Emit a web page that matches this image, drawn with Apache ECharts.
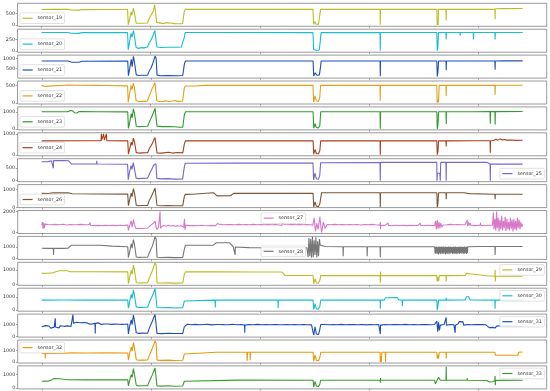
<!DOCTYPE html>
<html><head><meta charset="utf-8">
<script src="https://cdn.jsdelivr.net/npm/echarts@6/dist/echarts.min.js"></script>
<style>html,body{margin:0;padding:0;background:#fff}#c{width:550px;height:391px}</style>
</head><body><div id="c"></div>
<script>
// x values: row index in thousands
const names = ['sensor_19','sensor_20','sensor_21','sensor_22','sensor_23','sensor_24','sensor_25','sensor_26','sensor_27','sensor_28','sensor_29','sensor_30','sensor_31','sensor_32','sensor_33'];
const colors = ['#bcbd22','#17becf','#1f4fb4','#e0a21a','#2e9a2a','#a8401e','#7468cc','#7a5638','#d878c8','#777777','#bcbd22','#17becf','#1f4fb4','#e89a0a','#3a9a2a'];
const xTicks = [0,50,100,150,200];
const yMin = [-43.9,-22.4,44.5,-29.7,-61.4,-50,-42,-15.4,-100,-87.5,-72.7,-80,-64.8,-91.7,-72.2];
const yMax = [921.9,471.3,1158,623.8,1289,1050,881.6,1273,2100,1933,1539.6,1680,1888.8,1931,1657];
const yTicks = [[0,500],[0,250],[500,1000],[0,500],[0,1000],[0,1000],[0,500],[0,1000],[0,2000],[0,1000],[0,1000],[0,1000],[0,1000],[0,1000],[0,1000]];

const s19 = [[0,660],[5,665],[12,666],[13.5,640],[17,635],[18.5,655],[30,660],[39.4,662],[39.7,20],[40.3,250],[41,560],[41.4,420],[42.1,720],[42.6,500],[43.3,90],[44,80],[46,85],[48.5,95],[49.2,260],[49.9,330],[50.5,480],[51.2,600],[51.8,860],[52.3,900],[52.7,120],[53.2,60],[56,70],[57,110],[59,95],[61,70],[63,60],[64.6,70],[65.3,550],[65.8,668],[71,675],[71.2,700],[71.4,668],[90,668],[110,668],[124.3,668],[124.6,30],[125.2,150],[125.8,40],[126.8,40],[127.4,120],[127.8,668],[140,668],[155,668],[155.1,20],[155.2,668],[181,668],[181.2,10],[181.4,200],[181.6,10],[181.8,668],[185.2,668],[185.3,200],[185.4,668],[207.6,668],[207.7,250],[207.8,690],[212,700],[220.3,705]];
const s20 = [[0,400],[12,402],[13.5,385],[17,382],[18.5,398],[25.4,400],[25.5,390],[25.6,400],[39.4,398],[39.7,30],[40.3,200],[41,380],[41.4,300],[42.1,440],[42.6,300],[43.3,80],[44.5,60],[45.5,75],[47,70],[48.5,90],[49.3,180],[50,230],[50.7,300],[51.4,380],[51.9,440],[52.4,430],[52.8,90],[53.5,80],[55,80],[55.1,50],[55.2,85],[57.5,85],[57.6,55],[57.7,85],[60,85],[61.5,85],[61.6,55],[61.7,85],[64,90],[64.1,60],[64.2,90],[64.7,100],[65.4,300],[65.8,400],[73.5,400],[74,410],[74.5,400],[124.3,398],[124.6,40],[125.2,20],[126,15],[127.2,30],[127.6,200],[128,398],[155,400],[155.1,10],[155.2,400],[181,400],[181.2,10],[181.5,80],[181.8,400],[185.2,400],[185.3,250],[185.4,400],[191.6,400],[191.7,330],[191.8,400],[197.7,400],[197.8,250],[197.9,400],[207.6,400],[207.7,250],[207.8,400],[220.3,400]];
const s21 = [[0,870],[12,872],[13.5,820],[17,815],[18.5,860],[39.4,868],[39.7,160],[40.3,500],[41,950],[41.4,600],[42,1100],[42.5,800],[43.3,200],[44.5,170],[46,180],[48.5,190],[49.3,400],[50,520],[50.7,700],[51.3,900],[51.9,1110],[52.4,1000],[52.8,200],[54,160],[58,165],[62,160],[64.6,170],[65.3,700],[65.8,872],[80,872],[100,872],[124.3,870],[124.6,150],[125.3,300],[126,180],[127.2,200],[127.6,500],[128,870],[155,872],[155.1,140],[155.2,872],[181,872],[181.2,120],[181.5,350],[181.8,872],[185.2,872],[185.3,420],[185.4,872],[207.6,872],[207.7,450],[207.8,872],[212,880],[220.3,880]];
const s22 = [[0,500],[0.8,450],[1.6,470],[2.5,505],[12,510],[16,505],[25,500],[25.4,490],[25.6,505],[30,495],[39.4,485],[39.7,20],[40.3,250],[41,500],[41.4,380],[42,560],[42.5,450],[43.3,60],[44.5,40],[46,50],[47.5,45],[48.5,60],[49.3,200],[50,300],[50.7,420],[51.3,480],[51.9,580],[52.4,560],[52.8,60],[54,40],[56,45],[57,60],[58,40],[60,55],[61,70],[62,45],[64.6,50],[65.3,400],[65.8,480],[71,482],[74,500],[95,500],[100.5,500],[101,460],[101.5,500],[124.3,500],[124.6,30],[125.2,200],[125.8,60],[126.8,40],[127.4,150],[127.8,500],[155,500],[155.1,60],[155.2,500],[181,500],[181.2,0],[181.5,100],[181.8,20],[182.1,500],[185.2,500],[185.3,200],[185.4,500],[197.7,500],[197.8,470],[197.9,505],[207.6,505],[207.7,230],[207.8,505],[220.3,505]];
const s23 = [[0,1000],[12,1005],[13,1080],[14,1060],[15,950],[16,930],[17,1010],[25.3,1000],[25.4,1060],[25.5,1000],[39.4,995],[39.7,30],[40.3,400],[41,900],[41.4,650],[42,1180],[42.5,900],[43.3,150],[44.5,130],[46,140],[48.5,150],[49.3,400],[50,600],[50.7,800],[51.3,1000],[51.9,1200],[52.4,1150],[52.8,160],[55,130],[58,140],[61,120],[63,90],[64.6,100],[65.3,800],[65.8,1000],[124.3,1000],[124.6,40],[125.2,300],[125.8,80],[126.8,60],[127.4,200],[127.8,1000],[155,1000],[155.1,0],[155.2,1000],[181,1000],[181.2,0],[181.5,200],[181.8,1000],[185.2,1000],[185.3,280],[185.4,1000],[197.7,1000],[197.8,950],[197.9,1010],[205.4,1010],[205.5,300],[205.6,1010],[207.6,1010],[207.7,250],[207.8,1010],[220.3,1015]];
const s24 = [[0,665],[20,668],[27.2,668],[27.3,1000],[27.5,700],[28.3,1000],[28.5,990],[28.7,700],[29.6,1000],[29.8,670],[39.4,665],[39.7,30],[40.3,300],[41,600],[41.4,450],[42,800],[42.5,600],[43.3,100],[44.5,80],[46,90],[48.5,100],[49.3,300],[50,420],[50.7,550],[51.3,700],[51.9,820],[52.4,780],[52.8,90],[55,80],[58,120],[60,80],[62,110],[64.6,90],[65.3,500],[65.8,665],[124.3,665],[124.6,30],[125.2,250],[125.8,60],[126.8,40],[127.4,200],[127.8,665],[155,665],[155.1,0],[155.2,665],[181,665],[181.2,0],[181.5,150],[181.8,665],[185.2,665],[185.3,400],[185.4,665],[199,668],[199.1,700],[199.2,668],[205.4,670],[205.5,100],[205.6,670],[207,680],[208,740],[209,700],[210,760],[211,710],[212,730],[213,700],[215,705],[217,690],[220.3,695]];
const s25 = [[0,760],[3,765],[4.5,800],[5.3,800],[5.4,495],[5.5,810],[10,805],[12.3,800],[13.8,668],[25.2,668],[25.3,800],[25.4,668],[39.4,660],[39.7,40],[40.3,350],[41,600],[41.4,450],[42,720],[42.5,500],[43.3,100],[44.5,80],[46,90],[48.5,100],[49.3,250],[50,380],[50.7,500],[51.3,620],[51.9,700],[52.4,680],[52.8,90],[55,70],[58,80],[61,60],[64.6,70],[65.3,500],[65.8,700],[90,705],[124.3,710],[124.6,30],[125.2,300],[125.8,80],[126.8,60],[127.4,200],[127.8,720],[155,730],[155.1,0],[155.2,735],[181,735],[181.1,0],[181.3,300],[182.4,300],[182.6,0],[182.8,735],[185.2,735],[185.3,0],[185.4,735],[203.9,735],[204.1,665],[205.4,665],[205.5,0],[205.6,665],[217.6,665],[217.8,720],[217.9,665],[220.3,665]];
const s26 = [[0,780],[3,775],[5,810],[12,815],[14,760],[25,745],[25.4,800],[25.6,745],[39.4,740],[39.7,90],[40.3,450],[41,800],[41.4,600],[42,1050],[42.5,800],[43.3,120],[44.5,90],[46,100],[48.5,110],[49.3,400],[50,550],[50.7,750],[51.3,900],[51.9,1080],[52.4,1000],[52.8,100],[55,90],[58,95],[61,85],[64.6,95],[65.3,600],[65.8,726],[69,730],[69.5,820],[78.7,820],[80.3,640],[86.4,650],[87.9,780],[100,780],[124.3,790],[124.6,20],[125.2,300],[125.8,60],[126.8,40],[127.4,200],[128.2,820],[152,820],[152.1,870],[152.2,820],[155,820],[155.1,0],[155.2,820],[181,820],[181.2,0],[181.5,200],[181.8,820],[185.2,820],[185.3,450],[185.4,820],[193.5,815],[194.3,740],[195,780],[196,770],[196.5,730],[207.6,730],[207.7,450],[207.8,730],[217.7,730],[217.8,800],[217.9,730],[220.3,730]];
const s27 = [[0,700],[0.3,1000],[0.6,350],[0.9,950],[1.2,400],[1.5,800],[2,680],[2.9,760],[3.7,650],[4.6,740],[5.4,670],[6.3,770],[7.1,640],[8,730],[8.8,690],[9.7,780],[10.5,660],[11.4,720],[12.2,640],[13.1,760],[13.9,680],[14.8,740],[15.6,650],[16.5,750],[17.3,690],[18.2,770],[19,660],[19.9,730],[20.7,680],[21.6,750],[22.1,700],[22.2,950],[22.3,690],[23.2,760],[24,650],[24.9,740],[25.7,680],[26.6,770],[27.4,640],[28.3,730],[29.1,690],[30,760],[30.8,660],[31.7,740],[32.5,680],[33.4,750],[34.2,650],[35.1,730],[35.9,690],[36.8,760],[37.6,660],[38.5,720],[39.4,700],[39.7,200],[40.3,700],[41,1100],[41.4,500],[42,1250],[42.5,700],[43.3,350],[44.5,400],[46,380],[48.5,420],[49.3,600],[50,700],[50.7,550],[51.3,900],[51.9,1100],[52.4,500],[52.8,300],[53.5,500],[54.2,2000],[54.4,400],[55,600],[56,660],[57,600],[58,680],[59,610],[60,660],[61,590],[62,650],[63,600],[64,640],[65,500],[65.4,1300],[65.6,250],[66,700],[66.9,760],[67.7,650],[68.6,740],[69.4,670],[70.3,770],[71.1,640],[72,730],[72.8,690],[73.7,780],[74.5,660],[75.4,720],[76.2,640],[77.1,760],[77.9,680],[78.8,740],[79.6,650],[80.5,850],[80.8,690],[81.7,770],[82.5,660],[83.4,730],[84.2,680],[85.1,750],[85.9,650],[86.8,760],[87.6,640],[88.5,740],[89.3,680],[90.2,770],[91,660],[91.9,730],[92.7,690],[93.6,760],[94.4,650],[95.3,740],[96.1,680],[97,770],[97.8,640],[98.7,730],[99.5,690],[100.4,760],[101.2,660],[102.1,740],[102.9,680],[103.8,750],[104.6,650],[105.5,730],[106.3,690],[107.2,760],[108,660],[108.9,720],[110,680],[110.2,880],[110.4,700],[111.3,760],[112.1,650],[113,740],[113.8,680],[114.7,770],[115.5,640],[116.4,730],[117.2,690],[118.1,760],[118.9,660],[119.8,740],[120.6,680],[121.5,750],[122.3,650],[123.2,730],[124.2,700],[124.8,1400],[125.4,100],[126,900],[126.6,300],[127.4,1500],[128.2,0],[129,1000],[129.8,400],[130.8,750],[131.7,660],[132.5,740],[133.4,680],[134.2,770],[135.1,640],[135.9,730],[136.8,690],[137.6,760],[138.5,660],[139.3,740],[140.2,680],[141,750],[141.9,650],[142.7,730],[143.6,690],[144.4,760],[145.3,660],[146.1,720],[147,680],[147.8,760],[148.7,650],[149.5,740],[150.4,680],[151.2,770],[152.1,640],[152.9,730],[153.8,690],[155,700],[155.1,1000],[155.2,300],[155.3,700],[156.2,760],[157,650],[157.9,740],[158.7,900],[158.8,680],[159.7,770],[160.5,640],[161.4,730],[162.2,690],[163.1,760],[163.9,660],[164.8,740],[165.6,680],[166.5,750],[167.3,650],[168.2,730],[169,690],[169.9,760],[170.7,660],[171.6,720],[172.4,680],[173.4,900],[173.5,700],[174.4,770],[175.2,640],[176.1,730],[176.9,690],[177.8,760],[178.6,660],[179.5,740],[180,650],[180.4,1100],[180.8,300],[181.2,1200],[181.6,350],[182,1000],[182.4,400],[182.8,900],[183.3,500],[183.8,720],[184.7,660],[185.5,740],[186.4,680],[187.2,770],[188.1,640],[188.9,730],[189.8,690],[190.6,760],[191.5,660],[192.3,740],[193.2,680],[194,750],[194.8,700],[194.9,1200],[195.1,600],[195.5,1000],[195.8,650],[196.3,900],[196.5,700],[197.4,760],[198.2,650],[199.1,740],[199.9,680],[200.9,700],[201,950],[201.1,690],[202,770],[202.8,640],[203.7,730],[204.5,690],[205.4,760],[206.5,700],[206.9,1900],[207.2,300],[207.6,1300],[208,200],[208.4,2000],[208.7,400],[209.1,1400],[209.5,100],[209.9,1200],[210.3,300],[210.7,1600],[211.1,200],[211.5,1100],[211.9,400],[212.3,1500],[212.7,150],[213.1,1300],[213.5,300],[213.9,1000],[214.3,200],[214.7,1400],[215.1,350],[215.5,1200],[215.9,100],[216.3,1300],[216.7,300],[217.1,1100],[217.5,200],[217.9,1400],[218.3,400],[218.7,1200],[219.1,300],[219.5,1000],[219.9,500],[220.3,800]];
const s28 = [[0,890],[2,880],[5.3,880],[5.4,300],[5.5,885],[10,880],[12,890],[13.5,1150],[20,1160],[26.8,1150],[32,1080],[39.4,1030],[39.7,80],[40.3,600],[41,1300],[41.4,900],[42,1650],[42.5,1200],[43.3,120],[44.5,90],[46,100],[48.5,110],[49.3,500],[50,800],[50.7,1100],[51.3,1500],[51.9,1900],[52.4,1700],[52.8,100],[55,80],[58,90],[61,70],[64.6,90],[65.3,800],[65.8,1150],[78.6,1170],[80,1380],[86,1380],[87.7,1030],[88.5,1030],[88.6,300],[88.7,1000],[95,950],[105,940],[121.5,940],[122,100],[122.4,1800],[122.8,200],[123.2,1700],[123.6,50],[124,1900],[124.4,100],[124.8,1600],[125.2,300],[125.6,1850],[126,80],[126.4,1500],[126.8,200],[127.2,1700],[127.6,1150],[130,1040],[138,1030],[138.1,200],[138.2,1030],[149,1030],[149.1,200],[149.2,1030],[155,1030],[155.1,100],[155.2,1030],[180,1030],[180.2,450],[180.4,1000],[180.6,380],[180.8,1050],[181,500],[181.2,980],[181.4,420],[181.6,1040],[181.8,350],[182,1000],[182.2,470],[182.4,1050],[182.6,400],[182.8,990],[183,520],[183.2,1040],[183.4,380],[183.6,1000],[183.8,460],[184,1050],[184.2,420],[184.4,980],[184.6,500],[184.8,1040],[185,370],[185.2,1000],[185.4,450],[185.6,1030],[185.8,410],[186,990],[186.2,490],[186.4,1050],[186.6,360],[186.8,1000],[187,470],[187.2,1040],[187.4,430],[187.6,980],[187.8,510],[188,1030],[188.2,390],[188.4,1000],[188.6,460],[188.8,1050],[189,420],[189.2,990],[189.4,480],[189.6,1040],[189.8,370],[190,1000],[190.2,450],[190.4,1030],[190.6,410],[190.8,980],[191,500],[191.2,1050],[191.4,380],[191.6,1000],[191.8,470],[192,1040],[192.2,430],[192.4,990],[192.6,520],[192.8,1030],[193,390],[193.2,1000],[193.4,460],[193.6,1050],[193.8,420],[194,980],[194.2,490],[194.4,1040],[194.6,400],[194.8,1000],[195,470],[195.2,1030],[195.6,1040],[200,1050],[207.6,1050],[207.7,300],[207.8,1050],[212,1040],[220.3,1040]];
const s29 = [[0,765],[3,770],[5,800],[5.5,900],[8,950],[11.7,945],[13,880],[25,875],[39.4,870],[39.7,60],[40.3,500],[41,1000],[41.4,700],[42,1350],[42.5,1000],[43.3,120],[44.5,90],[46,100],[48.5,110],[49.3,450],[50,700],[50.7,950],[51.3,1250],[51.9,1500],[52.4,1350],[52.8,100],[55,90],[58,100],[61,80],[64.6,90],[65.3,700],[65.8,870],[80,865],[100,860],[110,860],[111.5,610],[124.3,610],[124.6,50],[125.2,400],[125.8,100],[126.8,80],[127.4,300],[127.8,605],[155,605],[155.1,100],[155.2,900],[155.3,605],[181,605],[181.2,200],[181.5,500],[181.8,220],[182.1,605],[185.2,605],[185.3,200],[185.4,605],[194,610],[194.5,760],[196,740],[196.5,610],[204,600],[204.2,560],[207.6,560],[207.7,1000],[207.8,200],[207.9,560],[220.3,560]];
const s30 = [[0,770],[10,772],[20,768],[30,770],[39.4,770],[39.7,150],[40.3,700],[41,1200],[41.4,900],[42,1550],[42.5,1100],[43.3,250],[44.5,200],[46,210],[48.5,220],[49.3,600],[50,850],[50.7,1100],[51.3,1350],[51.9,1650],[52.4,1500],[52.8,200],[55,180],[58,190],[61,170],[64.6,190],[65.3,700],[65.8,770],[79.4,770],[79.5,200],[79.6,770],[95,775],[108.2,770],[108.3,150],[108.4,770],[124.3,770],[124.6,50],[125.2,500],[125.8,100],[126.8,80],[127.4,300],[127.8,770],[155,770],[155.1,100],[155.2,770],[156.9,770],[157.5,950],[163,960],[163.5,780],[165.1,780],[165.2,300],[165.3,780],[181,770],[181.2,0],[181.5,300],[181.8,770],[185.2,770],[185.3,950],[185.4,770],[194,775],[194.5,1000],[195.5,1040],[196.3,780],[207.6,770],[207.7,100],[207.8,770],[220.3,765]];
const s31 = [[0,820],[0.9,690],[1.7,910],[2.5,750],[3.3,880],[4.1,700],[5,860],[5.7,780],[6.1,820],[6.2,1530],[6.3,800],[7.1,880],[7.9,720],[8.6,905],[9.5,760],[10.2,850],[11.1,735],[11.9,885],[12.6,770],[13.4,840],[14.2,800],[14.3,1850],[14.5,1120],[15.2,1030],[16,1190],[16.9,1060],[17.6,1160],[18.5,1020],[19.2,1170],[20.1,1090],[20.8,1140],[21.8,1040],[22.4,1150],[23.3,1060],[24.4,1100],[24.5,250],[24.6,1100],[25.3,1050],[26.1,1140],[27.1,1020],[27.7,1130],[28.7,1045],[29.3,1115],[30.3,1050],[30.9,1125],[31.9,1020],[32.5,1105],[33.5,1040],[34.1,1115],[35.1,1030],[35.7,1095],[36.7,1020],[37.3,1085],[38.3,1030],[39.4,1050],[39.7,200],[40.3,900],[41,1400],[41.4,1000],[42,1800],[42.5,1300],[43.3,300],[44.5,250],[46,270],[48.5,260],[49.3,700],[50,1000],[50.7,1300],[51.3,1600],[51.9,1850],[52.4,1700],[52.8,250],[55,230],[58,260],[61,240],[64.6,250],[65.3,800],[65.8,950],[66.7,1030],[67.5,880],[68.6,990],[69.4,905],[70.4,1020],[71.2,870],[72.3,985],[73.1,915],[74.2,1005],[75,885],[76.1,1015],[76.8,900],[78,975],[78.7,890],[79.9,1000],[80.6,920],[81.8,1010],[82.5,875],[83.7,995],[84.4,905],[85.6,985],[86.3,890],[87.5,1020],[88.2,900],[89.4,980],[90.1,885],[91.3,1000],[92.2,915],[92.9,950],[93,300],[93.1,950],[94,890],[95,1010],[95.8,895],[97,985],[97.7,905],[98.9,1015],[99.6,880],[100.8,990],[101.5,910],[102.7,1000],[103.4,890],[104.6,980],[105.3,905],[106.5,1010],[107.2,880],[108.4,995],[109.1,900],[110.3,985],[111,895],[112.2,1010],[112.9,905],[114.1,980],[114.8,890],[116,1000],[116.7,915],[117.9,985],[118.6,885],[119.8,1005],[120.5,900],[121.7,990],[122.4,910],[123.6,975],[124.3,950],[124.6,100],[125.2,800],[125.8,200],[126.8,150],[127.4,600],[127.8,1000],[128.6,890],[129.7,1010],[130.4,900],[131.6,985],[132.3,880],[133.5,1005],[134.2,915],[135.4,990],[136.1,885],[137.3,1015],[138,905],[139.2,980],[139.9,890],[141.1,1000],[141.8,910],[143,995],[143.7,880],[144.9,985],[145.6,905],[146.8,1010],[147.5,895],[148.7,975],[149.4,890],[150.6,1005],[151.3,915],[152.5,985],[153.2,895],[154.4,1000],[155,950],[155.1,200],[155.2,950],[156,890],[157.2,1010],[157.9,905],[159.1,985],[159.8,880],[161,995],[161.7,910],[162.9,1005],[163.6,890],[164.8,980],[165.5,905],[166.7,1015],[167.4,885],[168.6,990],[169.3,900],[170.5,1000],[171.2,890],[172.4,985],[173.1,910],[174.3,1010],[175,880],[176.2,995],[176.9,905],[178.1,980],[178.8,895],[180,1000],[180.5,900],[181,1300],[181.4,400],[181.8,1200],[182.2,500],[182.6,950],[183.4,890],[184.3,1000],[185.2,950],[185.3,1600],[185.4,950],[186.2,885],[187.1,1005],[188,900],[188.8,990],[189.3,950],[189.4,300],[189.5,950],[190.3,1000],[190.8,1060],[191.2,1250],[192,1180],[193,1230],[193.3,950],[194.1,890],[195,1005],[195.8,905],[196.7,985],[197.5,880],[198.4,1000],[199.2,910],[200.1,995],[200.9,890],[201.8,1010],[202.6,905],[203.5,980],[204.2,850],[205,740],[205.9,880],[206.7,760],[207.7,700],[208.4,870],[209.2,740],[210.1,900],[210.9,760],[211.8,860],[212.6,730],[213.5,890],[214.3,750],[215.2,870],[216,740],[216.9,880],[217.7,760],[218.6,860],[219.4,750],[220.3,830]];
const s32 = [[0,740],[1.5,740],[1.6,300],[1.7,740],[5,745],[10,760],[14,800],[20,790],[30,800],[39.4,790],[39.7,150],[40.3,800],[41,1300],[41.4,950],[42,1700],[42.5,1200],[43.3,200],[44.5,150],[46,160],[48.5,170],[49.3,600],[50,900],[50.7,1200],[51.3,1500],[51.9,1850],[52.4,1650],[52.8,150],[55,140],[58,160],[61,130],[64.6,150],[65.3,700],[65.8,850],[80,855],[94,850],[94.1,100],[94.3,850],[95.4,850],[95.5,150],[95.6,850],[110,850],[124.3,850],[124.6,60],[125.2,600],[125.8,150],[126.8,100],[127.4,400],[127.8,850],[155,860],[155.1,0],[155.3,500],[155.6,0],[155.8,860],[157.4,860],[157.5,0],[157.6,860],[181,860],[181.2,300],[181.5,600],[181.8,300],[182.1,860],[185.2,860],[185.3,300],[185.4,860],[207.6,860],[207.8,600],[212,590],[218.2,600],[218.4,850],[219,900],[220.3,880]];
const s33 = [[0,500],[2,510],[3,505],[4.5,600],[5.5,700],[8,690],[10,650],[12,620],[20,610],[30,615],[39.4,610],[39.7,150],[40.3,600],[41,1000],[41.4,800],[42,1450],[42.5,1000],[43.3,200],[44.5,150],[46,170],[48.5,160],[49.3,500],[50,750],[50.7,1000],[51.3,1250],[51.9,1500],[52.4,1350],[52.8,150],[55,140],[58,160],[61,130],[64.6,150],[65.3,500],[65.8,580],[90,585],[124.3,580],[124.6,60],[125.2,500],[125.8,150],[126.8,100],[127.4,300],[127.8,580],[155,580],[155.1,400],[155.2,750],[155.3,580],[180,580],[180.3,300],[181,420],[181.8,800],[182.6,580],[185.2,580],[185.3,1600],[185.4,580],[194.8,580],[194.9,750],[195,580],[204,560],[205,450],[206.5,470],[207.6,560],[207.7,900],[207.8,200],[207.9,570],[220.3,575]];
const seriesData = [s19,s20,s21,s22,s23,s24,s25,s26,s27,s28,s29,s30,s31,s32,s33];
// legend placement: 'll' lower left, 'lr' lower right, 'uc' upper center, 'lc' lower center, 'ur' upper right, 'ul' upper left
const legendLoc = ['ll','ll','ll','ll','ll','ll','lr','ll','uc','lc','ur','ur','ur','ul','ur'];

const TOP0 = 3.3, PITCH = 25.9, PH = 23, LEFT = 17.5, PW = 529.2;
const XMIN = -11.016, XMAX = 231.336;
const FONT = 'DejaVu Sans';
const spine = '#808080';

const grid = [], xAxis = [], yAxis = [], series = [], legend = [];
names.forEach((n, i) => {
  const top = TOP0 + PITCH * i;
  grid.push({left: LEFT, top: top, width: PW, height: PH, show: true, borderColor: spine, borderWidth: 0.8, backgroundColor: 'transparent'});
  xAxis.push({type: 'value', gridIndex: i, min: XMIN, max: XMAX, position: 'bottom',
    axisLine: {show: false, onZero: false}, splitLine: {show: false},
    axisTick: {show: true, inside: false, length: 1.8, lineStyle: {color: spine, width: 0.7}, customValues: xTicks},
    axisLabel: {show: false, customValues: xTicks}});
  yAxis.push({type: 'value', gridIndex: i, min: yMin[i], max: yMax[i], position: 'left',
    axisLine: {show: false, onZero: false}, splitLine: {show: false},
    axisTick: {show: true, inside: false, length: 1.8, lineStyle: {color: spine, width: 0.7}, customValues: yTicks[i]},
    axisLabel: {show: true, margin: 2.5, fontSize: 4.8, fontFamily: FONT, color: '#333', customValues: yTicks[i],
      formatter: function (v) { return String(v); }}});
  series.push({name: n, type: 'line', xAxisIndex: i, yAxisIndex: i, data: seriesData[i],
    showSymbol: false, symbol: 'none', clip: true, animation: false,
    lineStyle: {color: colors[i], width: 1.1}, itemStyle: {color: colors[i]}});
  const L = {data: [n], orient: 'horizontal', itemWidth: 10, itemHeight: 1.2, icon: 'rect',
    padding: [2.3, 2.6], itemGap: 0,
    backgroundColor: 'rgba(255,255,255,0.85)', borderColor: '#cccccc', borderWidth: 0.6, borderRadius: 1.5,
    selectedMode: false,
    textStyle: {fontSize: 4.8, fontFamily: FONT, color: '#333', lineHeight: 6}};
  const loc = legendLoc[i];
  if (loc[0] === 'l') L.top = top + 9.6; else L.top = top + 2.3;
  if (loc[1] === 'l') L.left = 20;
  else if (loc[1] === 'r') L.right = 5.6;
  else L.left = 261;
  legend.push(L);
});

const chart = echarts.init(document.getElementById('c'), null, {renderer: 'canvas'});
chart.setOption({animation: false, backgroundColor: '#fff', grid, xAxis, yAxis, series, legend});
</script></body></html>
